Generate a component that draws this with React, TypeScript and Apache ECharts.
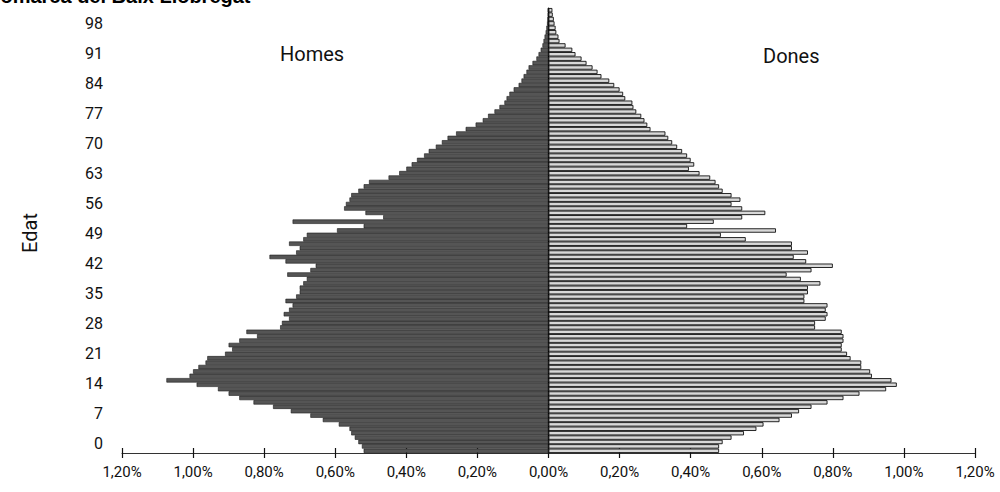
import React, { useEffect, useRef } from "react";
import * as echarts from "echarts";

const AGE_COUNT = 101;
const ages: string[] = Array.from({ length: AGE_COUNT }, (_, i) => String(i));
const ageTickLabels: number[] = [0, 7, 14, 21, 28, 35, 42, 49, 56, 63, 70, 77, 84, 91, 98];

// Percentages of population by single year of age (0..100)
const homes: number[] = [
  0.52, 0.525, 0.535, 0.545, 0.555, 0.56, 0.59, 0.635, 0.67, 0.725,
  0.775, 0.83, 0.87, 0.9, 0.93, 0.99, 1.075, 1.01, 1.0, 0.985,
  0.965, 0.96, 0.91, 0.89, 0.9, 0.87, 0.82, 0.85, 0.755, 0.75,
  0.73, 0.745, 0.73, 0.72, 0.74, 0.71, 0.7, 0.7, 0.69, 0.68,
  0.735, 0.67, 0.655, 0.74, 0.785, 0.71, 0.7, 0.73, 0.69, 0.68,
  0.595, 0.52, 0.72, 0.465, 0.515, 0.575, 0.57, 0.56, 0.555, 0.535,
  0.52, 0.505, 0.45, 0.42, 0.4, 0.385, 0.37, 0.35, 0.337, 0.317,
  0.3, 0.284, 0.26, 0.233, 0.205, 0.185, 0.17, 0.152, 0.138, 0.124,
  0.118, 0.11, 0.098, 0.084, 0.076, 0.07, 0.062, 0.056, 0.045, 0.034,
  0.028, 0.022, 0.017, 0.014, 0.011, 0.008, 0.006, 0.004, 0.003, 0.002, 0.002,
];

const dones: number[] = [
  0.48, 0.48, 0.49, 0.515, 0.55, 0.585, 0.605, 0.65, 0.685, 0.705,
  0.74, 0.785, 0.83, 0.875, 0.95, 0.98, 0.965, 0.91, 0.905, 0.88,
  0.88, 0.85, 0.84, 0.825, 0.825, 0.83, 0.83, 0.825, 0.75, 0.75,
  0.78, 0.785, 0.78, 0.785, 0.72, 0.72, 0.73, 0.73, 0.765, 0.71,
  0.67, 0.74, 0.8, 0.725, 0.69, 0.73, 0.685, 0.685, 0.555, 0.485,
  0.64, 0.39, 0.465, 0.545, 0.61, 0.545, 0.515, 0.54, 0.515, 0.49,
  0.48, 0.47, 0.455, 0.425, 0.395, 0.41, 0.4, 0.39, 0.376, 0.362,
  0.348, 0.337, 0.329, 0.287, 0.278, 0.27, 0.261, 0.247, 0.239, 0.236,
  0.216, 0.21, 0.2, 0.185, 0.171, 0.149, 0.138, 0.124, 0.107, 0.093,
  0.076, 0.067, 0.048, 0.031, 0.028, 0.022, 0.02, 0.017, 0.015, 0.012, 0.011,
];

const X_MIN = -1.2;
const X_MAX = 1.2;
const X_STEP = 0.2;

const FONT = "Roboto, 'Liberation Sans', sans-serif";

const fmtPct = (v: number) => Math.abs(v).toFixed(2).replace(".", ",") + "%";

export default function App() {
  const ref = useRef<HTMLDivElement>(null);

  useEffect(() => {
    if (!ref.current) return;
    const chart = echarts.init(ref.current, undefined, { renderer: "svg" });
    const option: any = {
      animation: false,
      backgroundColor: "#ffffff",
      grid: [
        { left: 122, right: 25, top: 8, bottom: 39 },
        { left: 122, right: 25, top: 23, bottom: 49 },
      ],
      xAxis: [
        {
          type: "value",
          gridIndex: 0,
          min: X_MIN,
          max: X_MAX,
          interval: X_STEP,
          axisLine: { show: true, lineStyle: { color: "#333", width: 1 } },
          axisTick: { show: true, length: 5, lineStyle: { color: "#111", width: 1.2 } },
          axisLabel: {
            formatter: fmtPct,
            color: "#111",
            fontFamily: FONT,
            fontSize: 15,
            margin: 11,
          },
          splitLine: { show: false },
        },
        {
          type: "value",
          gridIndex: 0,
          min: X_MIN,
          max: X_MAX,
          interval: X_STEP,
          position: "bottom",
          axisLine: { show: false },
          axisTick: { show: true, inside: true, length: 5, lineStyle: { color: "#111", width: 1.2 } },
          axisLabel: { show: false },
          splitLine: { show: false },
        },
        {
          type: "value",
          gridIndex: 1,
          min: X_MIN,
          max: X_MAX,
          show: false,
        },
      ],
      yAxis: [
        {
          type: "category",
          gridIndex: 0,
          data: ages,
          boundaryGap: true,
          axisLine: { show: true, onZero: true, lineStyle: { color: "#000", width: 1.2 } },
          axisTick: { show: false },
          axisLabel: { show: false },
          splitLine: { show: false },
        },
        {
          type: "value",
          gridIndex: 1,
          min: ageTickLabels[0],
          max: ageTickLabels[ageTickLabels.length - 1],
          interval: ageTickLabels[1] - ageTickLabels[0],
          axisLine: { show: false },
          axisTick: { show: false },
          splitLine: { show: false },
          name: "Edat",
          nameLocation: "middle",
          nameGap: 82,
          nameRotate: 90,
          nameTextStyle: { fontFamily: FONT, fontSize: 20, color: "#111" },
          axisLabel: {
            color: "#111",
            fontFamily: FONT,
            fontSize: 16,
            margin: 19,
          },
        },
      ],
      series: [
        {
          name: "Homes",
          type: "bar",
          xAxisIndex: 0,
          yAxisIndex: 0,
          stack: "pyr",
          barCategoryGap: "0%",
          data: homes.map((v) => -v),
          itemStyle: { color: "#555555", borderColor: "#1a1a1a", borderWidth: 0.6 },
        },
        {
          name: "Dones",
          type: "bar",
          xAxisIndex: 0,
          yAxisIndex: 0,
          stack: "pyr",
          barCategoryGap: "0%",
          data: dones,
          itemStyle: { color: "#d8d8d8", borderColor: "#111111", borderWidth: 0.9 },
        },
      ],
      graphic: [
        {
          type: "text",
          left: -14,
          top: -14,
          style: {
            text: "Comarca del Baix Llobregat",
            font: "bold 20px 'Liberation Sans', Arial, sans-serif",
            fill: "#000",
          },
        },
        {
          type: "text",
          left: 280,
          top: 44,
          style: { text: "Homes", font: `20px ${FONT}`, fill: "#111" },
        },
        {
          type: "text",
          left: 763,
          top: 46,
          style: { text: "Dones", font: `20px ${FONT}`, fill: "#111" },
        },
      ],
    };
    chart.setOption(option);
    return () => chart.dispose();
  }, []);

  return (
    <div
      ref={ref}
      style={{ position: "absolute", left: 0, top: 0, width: 1000, height: 492 }}
    />
  );
}
